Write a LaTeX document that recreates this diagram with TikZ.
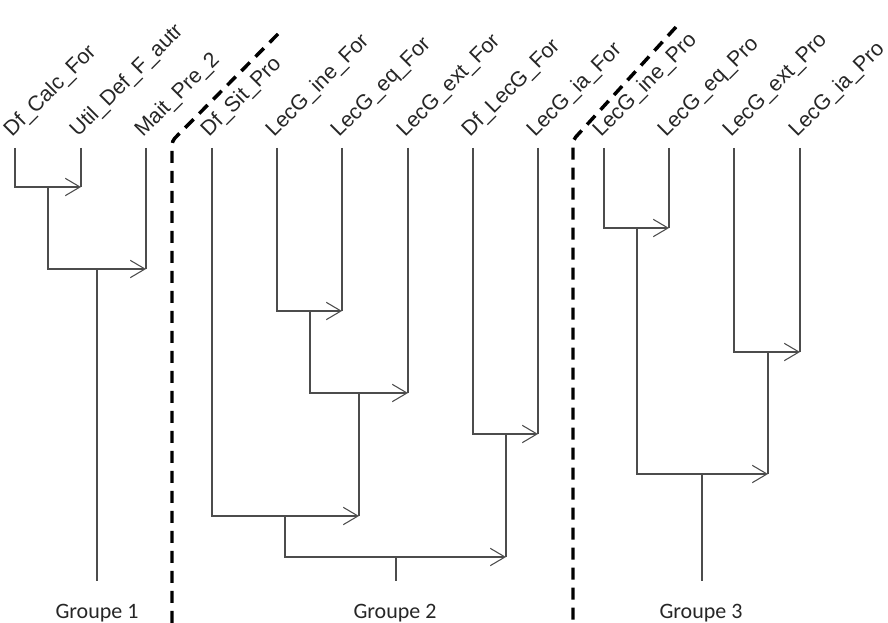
\documentclass[tikz,border=0pt]{standalone}
\usepackage{fontspec}
\setmainfont{Liberation Sans}
\newfontfamily\lblfont{Liberation Sans}
\newfontfamily\grpfont{Carlito}
\usetikzlibrary{arrows.meta}
\begin{document}
\begin{tikzpicture}[x=0.75pt,y=-0.75pt,
  ln/.style={draw=black!70, line width=0.8pt},
  arr/.style={ln,-{Straight Barb[length=11pt,width=13pt]}},
  lbl/.style={rotate=45, anchor=base west, inner sep=0pt, font=\lblfont\fontsize{16}{16}\selectfont, text=black!85},
  grp/.style={anchor=base, inner sep=0pt, font=\grpfont\fontsize{16.5}{16.5}\selectfont, text=black!85},
  sepline/.style={draw=black, line width=2.6pt, dash pattern=on 9pt off 6pt, rounded corners=3pt}]
\useasboundingbox (0,0) rectangle (888,623);

% leaf tops
\foreach \n/\x in {a1/15,a2/81,a3/146,b1/212,b2/277,b3/342,b4/408,b5/473,b6/538,c1/604,c2/669,c3/734,c4/800}
  \coordinate (\n) at (\x,148);

% leaf labels
\tikzset{lpos/.style={xshift=-2.3pt,yshift=7.5pt}}
\node[lbl] (la1) at ([lpos]a1) {Df\_Calc\_For};
\node[lbl] (la2) at ([lpos]a2) {Util\_Def\_F\_autr};
\node[lbl] (la3) at ([lpos]a3) {Mait\_Pre\_2};
\node[lbl] (lb1) at ([lpos]b1) {Df\_Sit\_Pro};
\node[lbl] (lb2) at ([lpos]b2) {LecG\_ine\_For};
\node[lbl] (lb3) at ([lpos]b3) {LecG\_eq\_For};
\node[lbl] (lb4) at ([lpos]b4) {LecG\_ext\_For};
\node[lbl] (lb5) at ([lpos]b5) {Df\_LecG\_For};
\node[lbl] (lb6) at ([lpos]b6) {LecG\_ia\_For};
\node[lbl] (lc1) at ([lpos]c1) {LecG\_ine\_Pro};
\node[lbl] (lc2) at ([lpos]c2) {LecG\_eq\_Pro};
\node[lbl] (lc3) at ([lpos]c3) {LecG\_ext\_Pro};
\node[lbl] (lc4) at ([lpos]c4) {LecG\_ia\_Pro};

% merge points
\coordinate (m1) at (48,187);
\coordinate (m2) at (97,269);
\coordinate (n1) at (310,311);
\coordinate (n2) at (359,393);
\coordinate (n3) at (506,434);
\coordinate (n4) at (285,516);
\coordinate (n5) at (396,557);
\coordinate (p1) at (637,228);
\coordinate (p2) at (768,352);
\coordinate (p3) at (702,474);
\coordinate (r1) at (97,581);
\coordinate (r2) at (396,581);
\coordinate (r3) at (702,581);

% group 1
\draw[arr] (a1) |- (a2 |- m1);  \draw[ln] (a2) -- (a2 |- m1);
\draw[arr] (m1) |- (a3 |- m2);  \draw[ln] (a3) -- (a3 |- m2);
\draw[ln] (m2) -- (r1);
% group 2
\draw[arr] (b2) |- (b3 |- n1);  \draw[ln] (b3) -- (b3 |- n1);
\draw[arr] (n1) |- (b4 |- n2);  \draw[ln] (b4) -- (b4 |- n2);
\draw[arr] (b5) |- (b6 |- n3);  \draw[ln] (b6) -- (b6 |- n3);
\draw[arr] (b1) |- (n2 |- n4);  \draw[ln] (n2) -- (n2 |- n4);
\draw[arr] (n4) |- (n3 |- n5);  \draw[ln] (n3) -- (n3 |- n5);
\draw[ln] (n5) -- (r2);
% group 3
\draw[arr] (c1) |- (c2 |- p1);  \draw[ln] (c2) -- (c2 |- p1);
\draw[arr] (c3) |- (c4 |- p2);  \draw[ln] (c4) -- (c4 |- p2);
\draw[arr] (p1) |- (p2 |- p3);  \draw[ln] (p2) -- (p2 |- p3);
\draw[ln] (p3) -- (r3);

% group labels
\node[grp] (g1) at (97,618) {Groupe 1};
\node[grp] (g2) at (395,618) {Groupe 2};
\node[grp] (g3) at (701,618) {Groupe 3};

% separators
\coordinate (s1t) at (278,34);
\coordinate (s1c) at (172,141);
\coordinate (s1b) at (172,623);
\coordinate (s2t) at (676,27);
\coordinate (s2c) at (573,140);
\coordinate (s2b) at (573,623);
\draw[sepline] (s1t) -- (s1c) -- (s1b);
\draw[sepline] (s2t) -- (s2c) -- (s2b);
\end{tikzpicture}
\end{document}
